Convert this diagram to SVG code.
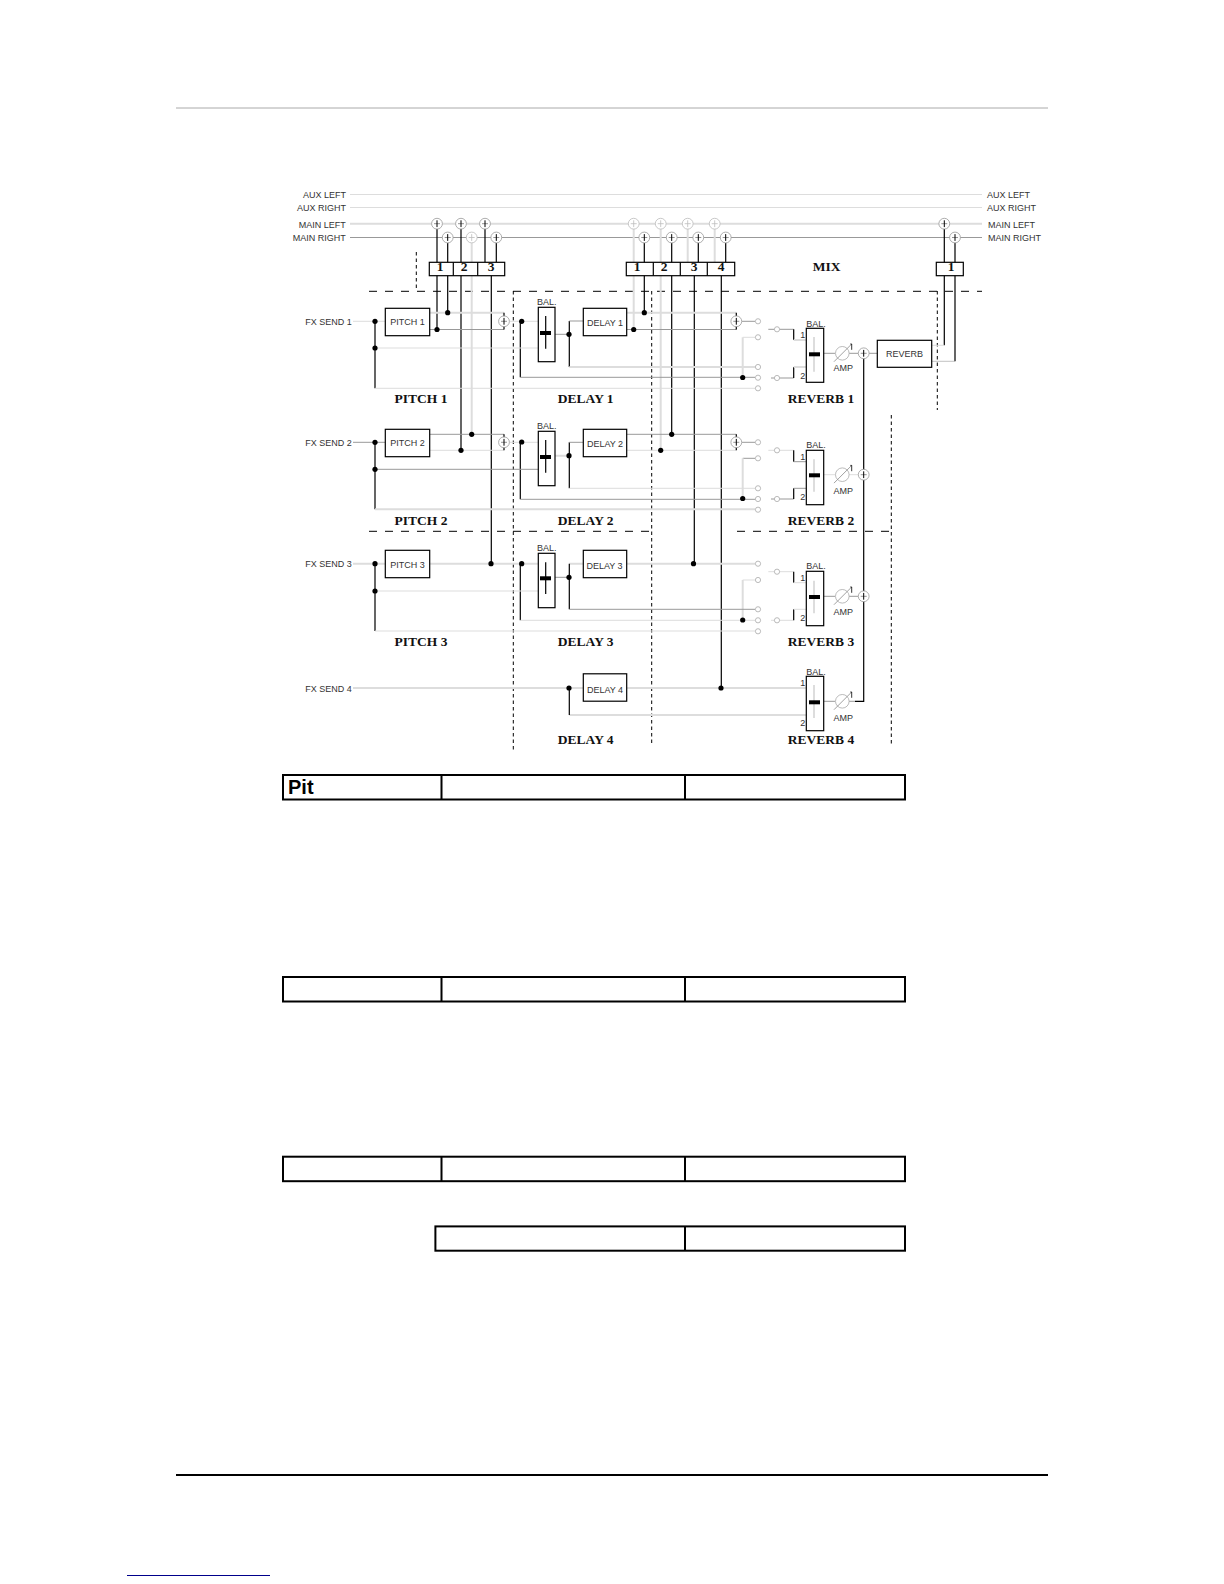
<svg xmlns="http://www.w3.org/2000/svg" width="1224" height="1584" viewBox="0 0 1224 1584">
<style>
text{font-family:"Liberation Sans",Arial,sans-serif;font-size:9px;fill:#333}
.c{text-anchor:middle}
.e{text-anchor:end}
.h{font-family:"Liberation Serif","Times New Roman",serif;font-size:13.5px;font-weight:bold;fill:#111;text-anchor:middle}
path,line{fill:none}
.k{stroke:#000;stroke-width:1.2}
.m{stroke:#999;stroke-width:1}
.l{stroke:#ddd;stroke-width:1}
.t{stroke:#ddd;stroke-width:2}
.dh{stroke:#000;stroke-width:1;stroke-dasharray:8 8}
.dv{stroke:#000;stroke-width:1;stroke-dasharray:3.5 3}
.box{fill:#fff;stroke:#000;stroke-width:1.2}
.tb{fill:#fff;stroke:#000;stroke-width:2}
.dot{fill:#000}
.sc{fill:#fff;stroke:#aaa;stroke-width:.8}
.bar{fill:#000}
</style>
<defs>
<g id="sk"><circle r="5.4" fill="#fff" stroke="#999" stroke-width=".8"/><path d="M-3 0H3" stroke="#777" stroke-width=".8"/><path d="M0-3.4V3.4" stroke="#000" stroke-width="1"/></g>
<g id="sg"><circle r="5.4" fill="#fff" stroke="#bbb" stroke-width=".8"/><path d="M-3 0H3M0-3.4V3.4" stroke="#bbb" stroke-width=".8"/></g>
<circle id="d" r="2.6" class="dot"/>
<circle id="o" r="2.6" class="sc"/>
<g id="amp"><circle r="6.8" fill="#fff" stroke="#aaa" stroke-width=".8"/><path d="M-8.3 8.4L9.4-9.3" stroke="#888" stroke-width=".8"/><path d="M8-9.3H9.4V-3.5" stroke="#000" stroke-width=".8"/></g>
</defs>

<line id="top-rule" x1="176" y1="108" x2="1048" y2="108" stroke="#aaa" stroke-width="1"/>
<line id="bottom-rule" x1="176" y1="1475" x2="1048" y2="1475" stroke="#000" stroke-width="2"/>
<line id="footer-link" x1="127" y1="1575.5" x2="270" y2="1575.5" stroke="#00008b" stroke-width="1"/>

<g id="connectors">
<path class="l" d="M350 194.5H982M350 207.5H982"/>
<path class="t" d="M350 223.7H982"/>
<path class="m" d="M350 237.5H982"/>
<path class="dh" d="M369 291.3H982M369 531.3H650M737 531.3H890"/>
<path class="dv" d="M416.3 252V291M513.3 291V750M651.7 291V745M937.3 291V410M891.3 415V745"/>
<!-- mix verticals -->
<path class="t" d="M471.7 237V434.3M633.7 223V329.5M660.7 223V450.3M687.7 223V262M714.7 223V262"/>
<path class="k" d="M437 223V329.5M447.7 237V312.7M461 223V450.3M485 223V262M496.3 237V262M491.3 275V563.7"/>
<path class="k" d="M644.3 237V312.7M671.7 237V434.3M698.3 237V262M725.7 237V262M694.3 275V563.7M721.3 275V688"/>
<path class="k" d="M944.3 223V345.3M955 237V361.3"/>
<path class="l" d="M931.7 345.3H944.3"/><path class="m" d="M931.7 361.3H955" stroke-opacity=".6"/>
<path class="k" d="M863.7 353.3V701.3H855"/>
<!-- row 1 -->
<path class="l" d="M353 321.3H385M510 321.3H538"/>
<path class="k" d="M375 321.3V388.3M520.3 321.3V377.3M569.3 321V367"/>
<path class="l" d="M375 348H538M375 388.3H755"/>
<path class="t" d="M429.7 312.7H504M626.7 312.7H736.3M569.3 367H755"/>
<path class="m" d="M429.7 329.5H504M626.7 329.5H736.3M520.3 377.3H755M555 334.3H569.3M569.3 321H583.3"/>
<path class="k" d="M504 312.7V329.5M736.3 312.7V329.5"/>
<path class="m" d="M742 321.3H755M768.3 329.3H793.7M771 378H793.7"/>
<path class="t" d="M742.7 337.3V377.7"/><path class="l" d="M742.7 337.3H755"/>
<path class="k" d="M793.7 329.3V340M793.7 367V378"/>
<path class="t" d="M793.7 340H806M793.7 367H806"/>
<path class="m" d="M823.7 353.3H835M849 353.3H858M869 353.3H877.3"/>
<!-- row 2 -->
<path class="m" d="M353 442.3H385"/><path class="l" d="M510 442.3H538"/>
<path class="k" d="M375 442.3V509.3M520.3 442.3V499.3M569.3 442.3V488.3"/>
<path class="m" d="M375 469.3H538M429.7 434.3H504M626.7 434.3H736.3M520.3 499.3H755M569.3 442.3H583.3M742 442.3H755M742.7 458.3H755M771 499H793.7"/>
<path class="t" d="M375 509.3H755M555 455.7H569.3M742.7 458.3V499"/>
<path class="l" d="M429.7 450.3H504M626.7 450.3H736.3M569.3 488.3H755M768.3 450.3H793.7"/>
<path class="k" d="M504 434.3V450.3M736.3 434.3V450.3M793.7 450.3V461.7M793.7 488.3V499"/>
<path class="m" d="M793.7 461.7H806M793.7 488.3H806"/>
<path class="l" d="M823.7 474.7H835M849 474.7H858"/>
<!-- row 3 -->
<path class="t" d="M353 563.7H385M429.7 563.7H538M569.3 563.7H583.3M626.7 563.7H755M742.7 580V620.3"/>
<path class="k" d="M375 563.7V631M520.3 563.7V620.3M569.3 563.7V609.3"/>
<path class="l" d="M375 591H538M375 631H755M520.3 620.3H755M742.7 580H755M768.3 571.7H793.7M771 620.3H793.7"/>
<path class="m" d="M555 577.3H569.3M569.3 609.3H755"/>
<path class="k" d="M793.7 571.7V582.7M793.7 609.3V620.3"/>
<path class="l" d="M793.7 582.7H806M793.7 609.3H806"/>
<path class="m" d="M823.7 596.3H835M849 596.3H858"/>
<!-- row 4 -->
<path class="t" d="M353 688H583.3M626.7 688H806M569.3 715H806"/>
<path class="k" d="M569.3 688V715"/>
<path class="m" d="M823.7 701.3H835M849 701.3H855"/>
</g>

<g id="mix-sums">
<use href="#sk" x="437" y="223.7"/><use href="#sk" x="461" y="223.7"/><use href="#sk" x="485" y="223.7"/>
<use href="#sk" x="447.7" y="237.5"/><use href="#sg" x="471.7" y="237.5"/><use href="#sk" x="496.3" y="237.5"/>
<use href="#sg" x="633.7" y="223.7"/><use href="#sg" x="660.7" y="223.7"/><use href="#sg" x="687.7" y="223.7"/><use href="#sg" x="714.7" y="223.7"/>
<use href="#sk" x="644.3" y="237.5"/><use href="#sk" x="671.7" y="237.5"/><use href="#sk" x="698.3" y="237.5"/><use href="#sk" x="725.7" y="237.5"/>
<use href="#sk" x="944.3" y="223.7"/><use href="#sk" x="955" y="237.5"/>
</g>

<g id="dots">
<use href="#d" x="437" y="329.5"/><use href="#d" x="447.7" y="312.7"/><use href="#d" x="461" y="450.3"/><use href="#d" x="471.7" y="434.3"/><use href="#d" x="491" y="563.7"/>
<use href="#d" x="633.7" y="329.5"/><use href="#d" x="644.3" y="312.7"/><use href="#d" x="660.7" y="450.3"/><use href="#d" x="671.7" y="434.3"/><use href="#d" x="693.5" y="563.7"/><use href="#d" x="721" y="688"/>
<use href="#d" x="375" y="321.3"/><use href="#d" x="375" y="348"/><use href="#d" x="521.7" y="321.3"/><use href="#d" x="569" y="334.3"/><use href="#d" x="742.7" y="377.5"/>
<use href="#d" x="375" y="442.3"/><use href="#d" x="375" y="469.3"/><use href="#d" x="521.7" y="442"/><use href="#d" x="569" y="455.7"/><use href="#d" x="742.7" y="498.5"/>
<use href="#d" x="375" y="563.7"/><use href="#d" x="375" y="591"/><use href="#d" x="521.7" y="563.7"/><use href="#d" x="569" y="577.3"/><use href="#d" x="742.7" y="620"/>
<use href="#d" x="569" y="688"/>
</g>

<g id="tap-sums">
<use href="#sk" x="504" y="321.3"/><use href="#sk" x="736.3" y="321.3"/><use href="#sk" x="863.7" y="353.3"/>
<use href="#sk" x="504" y="442.3"/><use href="#sk" x="736.3" y="442.3"/><use href="#sk" x="863.7" y="474.7"/>
<use href="#sk" x="863.7" y="596.3"/>
</g>

<g id="switch-contacts">
<use href="#o" x="758" y="321.3"/><use href="#o" x="758" y="337.3"/><use href="#o" x="758" y="367"/><use href="#o" x="758" y="377.7"/><use href="#o" x="758" y="388.3"/><use href="#o" x="777" y="329.3"/><use href="#o" x="777" y="378"/>
<use href="#o" x="758" y="442.3"/><use href="#o" x="758" y="458.3"/><use href="#o" x="758" y="488.3"/><use href="#o" x="758" y="499"/><use href="#o" x="758" y="509.7"/><use href="#o" x="777" y="450.3"/><use href="#o" x="777" y="499"/>
<use href="#o" x="758" y="563.7"/><use href="#o" x="758" y="580"/><use href="#o" x="758" y="609.3"/><use href="#o" x="758" y="620.3"/><use href="#o" x="758" y="631.3"/><use href="#o" x="777" y="571.7"/><use href="#o" x="777" y="620.3"/>
</g>

<g id="mix-block-1"><rect class="box" x="429.3" y="262.3" width="75.4" height="13.4"/><path class="k" d="M453.3 262.3V275.7M477.7 262.3V275.7"/><text class="h" x="440" y="270.5">1</text><text class="h" x="464" y="270.5">2</text><text class="h" x="491" y="270.5">3</text></g>
<g id="mix-block-2"><rect class="box" x="626.3" y="262.3" width="108.4" height="13.4"/><path class="k" d="M653.3 262.3V275.7M680.3 262.3V275.7M707.3 262.3V275.7"/><text class="h" x="637" y="270.5">1</text><text class="h" x="664" y="270.5">2</text><text class="h" x="694" y="270.5">3</text><text class="h" x="721" y="270.5">4</text></g>
<g id="mix-block-3"><rect class="box" x="936.3" y="262.3" width="27" height="13.4"/><text class="h" x="951" y="270.5">1</text></g>

<g id="pitch-1"><rect class="box" x="385.3" y="308.3" width="44.4" height="27.4"/><text class="c" x="407.5" y="325">PITCH 1</text></g>
<g id="pitch-2"><rect class="box" x="385.3" y="429.3" width="44.4" height="27.4"/><text class="c" x="407.5" y="446">PITCH 2</text></g>
<g id="pitch-3"><rect class="box" x="385.3" y="550.3" width="44.4" height="27.4"/><text class="c" x="407.5" y="568">PITCH 3</text></g>
<g id="delay-1"><rect class="box" x="583.3" y="308.3" width="43.4" height="27.4"/><text class="c" x="605" y="326">DELAY 1</text></g>
<g id="delay-2"><rect class="box" x="583.3" y="429.3" width="43.4" height="27.4"/><text class="c" x="605" y="447">DELAY 2</text></g>
<g id="delay-3"><rect class="box" x="583.3" y="550.3" width="43.4" height="27.4"/><text class="c" x="604.5" y="569">DELAY 3</text></g>
<g id="delay-4"><rect class="box" x="583.3" y="673.8" width="43.4" height="27.4"/><text class="c" x="605" y="693">DELAY 4</text></g>
<g id="reverb"><rect class="box" x="877.3" y="340.3" width="54.4" height="27"/><text class="c" x="904.5" y="357">REVERB</text></g>

<g id="bal-a1"><rect class="box" x="538.3" y="307.3" width="16.7" height="54.4"/><path class="k" d="M545.7 316V348.7"/><rect class="bar" x="540" y="331" width="11" height="4"/><text class="c" x="546.7" y="305">BAL.</text></g>
<g id="bal-a2"><rect class="box" x="538.3" y="431.3" width="16.7" height="54.4"/><path class="k" d="M545.7 440V472.7"/><rect class="bar" x="540" y="455" width="11" height="4"/><text class="c" x="546.7" y="429">BAL.</text></g>
<g id="bal-a3"><rect class="box" x="538.3" y="553.3" width="16.7" height="54.4"/><path class="k" d="M545.7 562.3V594"/><rect class="bar" x="540" y="576.3" width="11" height="4"/><text class="c" x="546.7" y="551">BAL.</text></g>

<g id="bal-b1"><rect class="box" x="806.3" y="328.3" width="17.4" height="54"/><path class="t" d="M814 337V371.7"/><rect class="bar" x="809" y="352.3" width="11" height="4"/><text class="c" x="816" y="327">BAL.</text><text class="c" x="802.7" y="338">1</text><text class="c" x="802.7" y="379">2</text></g>
<g id="bal-b2"><rect class="box" x="806.3" y="450.3" width="17.4" height="54.4"/><path class="t" d="M814 459.3V491.7"/><rect class="bar" x="809" y="473.3" width="11" height="4"/><text class="c" x="816" y="448">BAL.</text><text class="c" x="802.7" y="460">1</text><text class="c" x="802.7" y="500">2</text></g>
<g id="bal-b3"><rect class="box" x="806.3" y="571.3" width="17.4" height="54.4"/><path class="t" d="M814 580.7V613.3"/><rect class="bar" x="809" y="595" width="11" height="4"/><text class="c" x="816" y="569">BAL.</text><text class="c" x="802.7" y="581">1</text><text class="c" x="802.7" y="621">2</text></g>
<g id="bal-b4"><rect class="box" x="806.3" y="676.3" width="17.4" height="54.4"/><path class="t" d="M814 685V718"/><rect class="bar" x="809" y="700.3" width="11" height="4"/><text class="c" x="816" y="675">BAL.</text><text class="c" x="802.7" y="686">1</text><text class="c" x="802.7" y="726">2</text></g>

<g id="amp-1"><use href="#amp" x="842.3" y="353.3"/><text class="c" x="843.3" y="371">AMP</text></g>
<g id="amp-2"><use href="#amp" x="842.3" y="474.7"/><text class="c" x="843.3" y="494.3">AMP</text></g>
<g id="amp-3"><use href="#amp" x="842.3" y="596.3"/><text class="c" x="843.3" y="615">AMP</text></g>
<g id="amp-4"><use href="#amp" x="842.3" y="701.3"/><text class="c" x="843.3" y="720.7">AMP</text></g>

<g id="bus-labels">
<text class="e" x="346" y="198">AUX LEFT</text><text class="e" x="346" y="211">AUX RIGHT</text><text class="e" x="345.7" y="228">MAIN LEFT</text><text class="e" x="345.7" y="241">MAIN RIGHT</text>
<text x="987" y="198">AUX LEFT</text><text x="987" y="211">AUX RIGHT</text><text x="988" y="228">MAIN LEFT</text><text x="988" y="241">MAIN RIGHT</text>
<text x="305.3" y="325">FX SEND 1</text><text x="305.3" y="446">FX SEND 2</text><text x="305.3" y="567">FX SEND 3</text><text x="305.3" y="692">FX SEND 4</text>
</g>
<g id="captions">
<text class="h" x="826.7" y="271">MIX</text>
<text class="h" x="421" y="403">PITCH 1</text><text class="h" x="585.7" y="403">DELAY 1</text><text class="h" x="821" y="403">REVERB 1</text>
<text class="h" x="421" y="525">PITCH 2</text><text class="h" x="585.7" y="525">DELAY 2</text><text class="h" x="821" y="525">REVERB 2</text>
<text class="h" x="421" y="646">PITCH 3</text><text class="h" x="585.7" y="646">DELAY 3</text><text class="h" x="821" y="646">REVERB 3</text>
<text class="h" x="585.7" y="744">DELAY 4</text><text class="h" x="821" y="744">REVERB 4</text>
</g>

<g id="table-1"><rect class="tb" x="283" y="775" width="622" height="24.5"/><path stroke="#000" stroke-width="2" d="M441.5 775V799.5M685 775V799.5"/><text x="288" y="794" style="font-size:20px;font-weight:bold;fill:#000">Pit</text></g>
<g id="table-2"><rect class="tb" x="283" y="977" width="622" height="24.5"/><path stroke="#000" stroke-width="2" d="M441.5 977V1001.5M685 977V1001.5"/></g>
<g id="table-3"><rect class="tb" x="283" y="1156.7" width="622" height="24.5"/><path stroke="#000" stroke-width="2" d="M441.5 1156.7V1181.2M685 1156.7V1181.2"/></g>
<g id="table-4"><rect class="tb" x="435.4" y="1226.4" width="469.6" height="24.3"/><path stroke="#000" stroke-width="2" d="M685 1226.4V1250.7"/></g>
</svg>
